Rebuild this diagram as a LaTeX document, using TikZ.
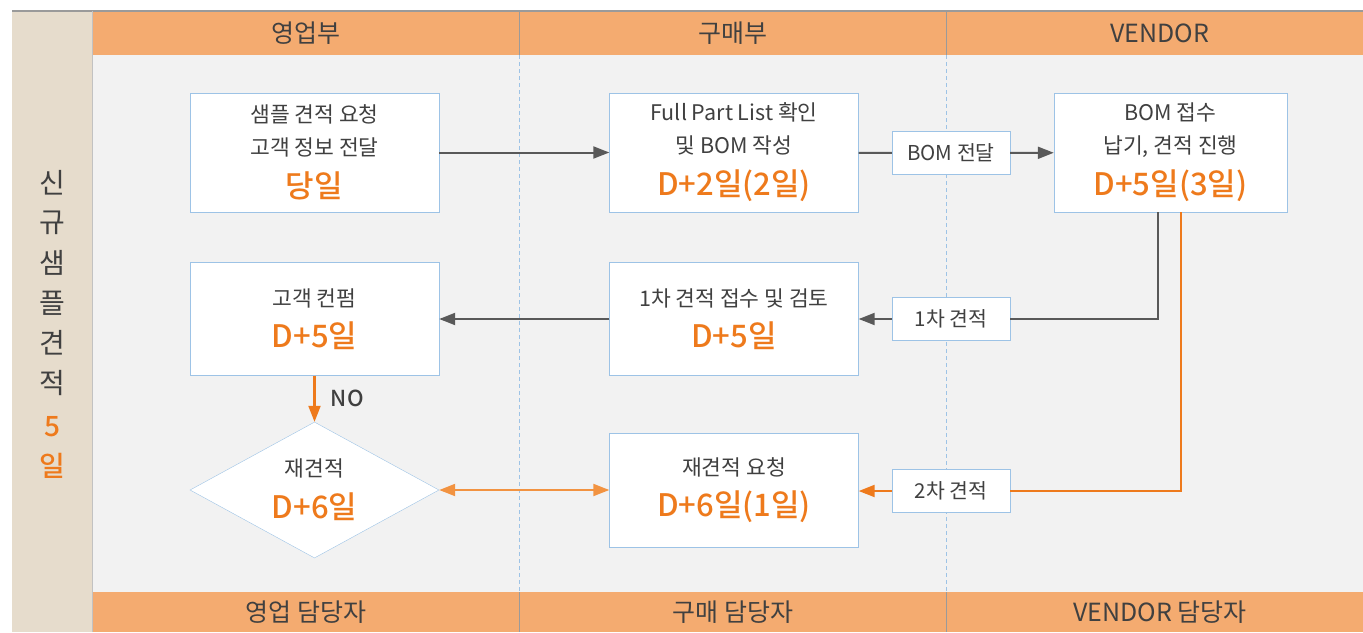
\documentclass[tikz,border=0pt]{standalone}
\usepackage{fontspec}
\setmainfont{Noto Sans CJK KR}[BoldFont={Noto Sans CJK KR Medium}]
\usetikzlibrary{arrows.meta, positioning, shapes.geometric, calc}
\definecolor{hdorange}{HTML}{F4AB70}
\definecolor{sidebeige}{HTML}{E6DCCC}
\definecolor{bggray}{HTML}{F2F2F2}
\definecolor{rulegray}{HTML}{9A9A9A}
\definecolor{boxblue}{HTML}{9DC3E6}
\definecolor{txtgray}{HTML}{404040}
\definecolor{linegray}{HTML}{595959}
\definecolor{dayorange}{HTML}{EE7A1C}
\definecolor{softorange}{HTML}{F29341}
\newcommand{\dday}[1]{{\fontsize{31}{36}\selectfont\bfseries\color{dayorange}#1}}

\begin{document}
\begin{tikzpicture}[
  x=1pt, y=-1pt,
  lane/.style={text=txtgray, font=\fontsize{25}{28}\selectfont},
  stepbox/.style={draw=boxblue, fill=white, minimum width=249pt,
                  minimum height=119pt, inner sep=0pt, align=center,
                  text=txtgray, font=\fontsize{21.5}{33}\selectfont},
  decide/.style={diamond, draw=boxblue, fill=white, minimum width=249pt,
                 minimum height=136pt, aspect=1.83, inner sep=0pt,
                 align=center, text=txtgray, font=\fontsize{21.5}{42}\selectfont},
  tag/.style={draw=boxblue, fill=white, minimum width=118pt,
              minimum height=43pt, inner sep=0pt, text=txtgray,
              font=\fontsize{20.5}{24}\selectfont},
  gline/.style={draw=linegray, line width=2pt},
  garrow/.style={gline, -{Triangle[length=16pt, width=12pt]}},
  oline/.style={draw=dayorange, line width=2.2pt},
  oarrow/.style={oline, -{Triangle[length=16pt, width=12pt]}},
  darrow/.style={draw=softorange, line width=2pt,
                 {Triangle[length=16pt, width=12pt]}-{Triangle[length=16pt, width=12pt]}}
]
\useasboundingbox (0,0) rectangle (1363,632);

% lanes
\fill[white] (0,0) rectangle (1363,632);
\fill[sidebeige] (12,11) rectangle (92,632);
\fill[bggray] (93,55) rectangle (1363,592);
\fill[hdorange] (93,11) rectangle (1363,55);
\fill[hdorange] (93,592) rectangle (1363,632);
\draw[rulegray, line width=1.5pt] (12,11) -- (1363,11);
\draw[rulegray!60, line width=1pt] (92.5,11) -- (92.5,632);
\foreach \x in {519.5, 946.5} {
  \draw[rulegray, line width=1pt] (\x,11) -- (\x,55);
  \draw[rulegray, line width=1pt] (\x,592) -- (\x,632);
  \draw[boxblue, line width=1pt, dash pattern=on 4pt off 3pt] (\x,55) -- (\x,592);
}

\node[lane] (hdsales) at (306,33) {영업부};
\node[lane] (hdbuy) at (733,33) {구매부};
\node[lane] (hdvendor) at (1160,33) {VENDOR};
\node[lane] (ftsales) at (306,612) {영업 담당자};
\node[lane] (ftbuy) at (733,612) {구매 담당자};
\node[lane] (ftvendor) at (1160,612) {VENDOR 담당자};

% side title
\foreach \ch [count=\i] in {신,규,샘,플,견,적}
  \node[text=txtgray, font=\fontsize{28}{30}\selectfont] (side\i) at (52,143+40*\i) {\ch};
\node[text=dayorange, font=\fontsize{28}{30}\selectfont\bfseries] (side7) at (52,427) {5};
\node[text=dayorange, font=\fontsize{28}{30}\selectfont\bfseries] (side8) at (52,466) {일};

% steps
\node[stepbox] (request) at (314.5,152.5) {샘플 견적 요청\\고객 정보 전달\\[9pt]\dday{당일}};
\node[stepbox] (bom) at (734,152.5) {Full Part List 확인\\및 BOM 작성\\[9pt]\dday{D+2일(2일)}};
\node[stepbox, minimum width=233pt] (quote) at (1170.5,152.5) {BOM 접수\\납기, 견적 진행\\[9pt]\dday{D+5일(3일)}};
\node[stepbox, minimum height=113pt] (confirm) at (314.5,319) {고객 컨펌\\[8pt]\dday{D+5일}};
\node[stepbox, minimum height=113pt] (review) at (734,319) {1차 견적 접수 및 검토\\[8pt]\dday{D+5일}};
\node[decide] (requote) at (314.5,490) {재견적\\\dday{D+6일}};
\node[stepbox, minimum height=114pt] (rerequest) at (734,490) {재견적 요청\\[8pt]\dday{D+6일(1일)}};

\node[tag] (tagbom) at (951,153) {BOM 전달};
\node[tag] (tagfirst) at (951,319) {1차 견적};
\node[tag] (tagsecond) at (951,491) {2차 견적};

% flow
\draw[garrow] (request) -- (bom);
\draw[gline] (bom) -- (tagbom);
\draw[garrow] (tagbom) -- (quote);
\draw[gline] ([xshift=-12.5pt]quote.south) |- (tagfirst);
\draw[garrow] (tagfirst) -- (review);
\draw[garrow] (review) -- (confirm);
\draw[oline] ([xshift=10.5pt]quote.south) |- (tagsecond);
\draw[oarrow] (tagsecond.west) -- (rerequest.east |- tagsecond.west);
\draw[oarrow] (confirm) -- node[right=12pt, text=txtgray, font=\fontsize{22}{26}\selectfont\bfseries] (no) {NO} (requote);
\draw[darrow] (requote) -- (rerequest);
\end{tikzpicture}
\end{document}
